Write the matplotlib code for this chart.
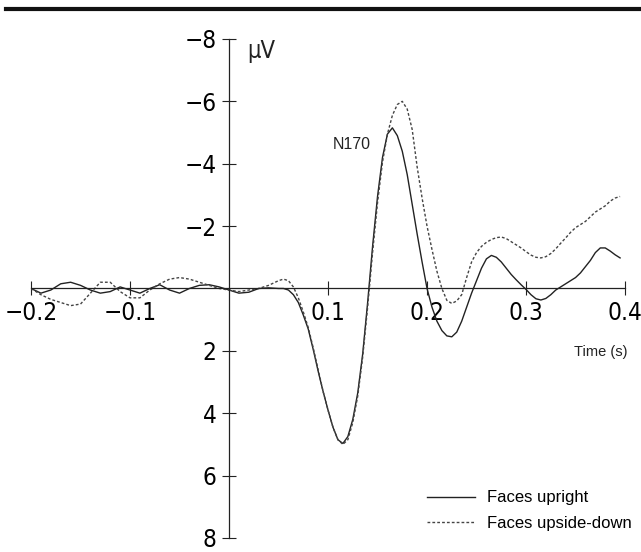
import numpy as np
import matplotlib
matplotlib.use('Agg')
import matplotlib.pyplot as plt
from matplotlib.lines import Line2D

# ERP data (microvolts, negative plotted upward)
t_pre = np.round(np.arange(-0.20, 0.045, 0.01), 3)
t_post = np.round(np.arange(0.05, 0.3951, 0.005), 3)
time = np.concatenate([t_pre, t_post])

upright_pre = [0.0, 0.15, 0.05, -0.15, -0.2, -0.1, 0.05, 0.15, 0.1, -0.05,
               0.05, 0.15, 0.0, -0.12, 0.05, 0.15, 0.0, -0.1, -0.12, -0.05,
               0.05, 0.15, 0.12, 0.0, -0.02]
upright_post = [0.0, 0.0, 0.05, 0.2, 0.45, 0.85, 1.3, 1.95, 2.65, 3.3,
                3.9, 4.45, 4.85, 4.97, 4.75, 4.2, 3.35, 2.1, 0.45, -1.35,
                -2.95, -4.2, -4.95, -5.15, -4.9, -4.4, -3.65, -2.7, -1.75, -0.85,
                0.0, 0.6, 1.05, 1.35, 1.52, 1.55, 1.4, 1.05, 0.6, 0.15,
                -0.25, -0.65, -0.95, -1.06, -1.0, -0.85, -0.65, -0.45, -0.28, -0.12,
                0.03, 0.2, 0.33, 0.37, 0.32, 0.2, 0.05, -0.05, -0.15, -0.25,
                -0.35, -0.5, -0.7, -0.9, -1.15, -1.3, -1.3, -1.2, -1.08, -0.98]

inverted_pre = [0.0, 0.2, 0.35, 0.45, 0.55, 0.5, 0.15, -0.2, -0.2, 0.1,
                0.3, 0.3, 0.05, -0.15, -0.3, -0.35, -0.3, -0.2, -0.1, 0.0,
                0.05, 0.1, 0.05, 0.0, -0.1]
inverted_post = [-0.25, -0.3, -0.25, -0.05, 0.3, 0.75, 1.25, 1.9, 2.6, 3.3,
                 3.9, 4.45, 4.85, 5.0, 4.85, 4.3, 3.45, 2.2, 0.6, -1.15,
                 -2.75, -4.05, -4.95, -5.55, -5.9, -6.0, -5.75, -5.1, -3.9, -2.9,
                 -2.0, -1.25, -0.55, 0.0, 0.38, 0.48, 0.4, 0.2, -0.35, -0.85,
                 -1.15, -1.35, -1.48, -1.57, -1.63, -1.65, -1.6, -1.5, -1.4, -1.3,
                 -1.18, -1.07, -1.0, -0.98, -1.02, -1.12, -1.27, -1.45, -1.62, -1.8,
                 -1.95, -2.05, -2.15, -2.3, -2.45, -2.55, -2.65, -2.8, -2.9, -2.95]

upright = np.array(upright_pre + upright_post)
inverted = np.array(inverted_pre + inverted_post)

x_ticks = [-0.2, -0.1, 0.1, 0.2, 0.3, 0.4]
x_labels = ['\u22120.2', '\u22120.1', '0.1', '0.2', '0.3', '0.4']
y_ticks = [-8, -6, -4, -2, 2, 4, 6, 8]
y_labels = ['\u22128', '\u22126', '\u22124', '\u22122', '2', '4', '6', '8']

SANS = ['Liberation Sans', 'DejaVu Sans']
INK = '#222222'
tick_font = dict(family='DejaVu Sans', stretch='condensed', size=17.5)

fig = plt.figure(figsize=(6.41, 5.52), dpi=100)
ax = fig.add_axes([0.0484, 0.0254, 0.9267, 0.904])

ax.plot(time, upright, color=INK, lw=1.0, label='Faces upright')
ax.plot(time, inverted, color='#444444', lw=1.0, linestyle=(0, (2, 1.5)),
        label='Faces upside-down')

ax.set_xlim(-0.2, 0.4)
ax.set_ylim(8, -8)

for s in ['top', 'right']:
    ax.spines[s].set_visible(False)
ax.spines['left'].set_position(('data', 0))
ax.spines['bottom'].set_position(('data', 0))
for s in ['left', 'bottom']:
    ax.spines[s].set_linewidth(0.9)
    ax.spines[s].set_color(INK)

ax.set_xticks(x_ticks)
ax.set_xticklabels(x_labels, **tick_font)
ax.set_yticks(y_ticks)
ax.set_yticklabels(y_labels, **tick_font)
ax.tick_params(axis='both', direction='inout', length=10, width=0.8, color=INK)
ax.tick_params(axis='x', pad=4)
ax.tick_params(axis='y', pad=4)

ax.text(0.018, -7.6, '\u03bcV', family='DejaVu Sans', stretch='condensed',
        fontsize=17, color=INK, ha='left', va='center')
ax.text(0.105, -4.62, 'N170', family=SANS, fontsize=11.5, color=INK,
        ha='left', va='center')
ax.text(0.348, 2.05, 'Time (s)', family=SANS, fontsize=10.5, color=INK,
        ha='left', va='center')

ax.legend(loc='center left', bbox_to_anchor=(0.643, 0.075), bbox_transform=fig.transFigure,
          frameon=False, handlelength=2.9, handletextpad=0.7, labelspacing=0.62,
          prop={'family': SANS, 'size': 12})

# heavy rule across the top of the page
fig.add_artist(Line2D([0.009, 1.0], [0.984, 0.984], transform=fig.transFigure,
                      color='#111111', lw=3))

fig.savefig('out.png', dpi=100)
